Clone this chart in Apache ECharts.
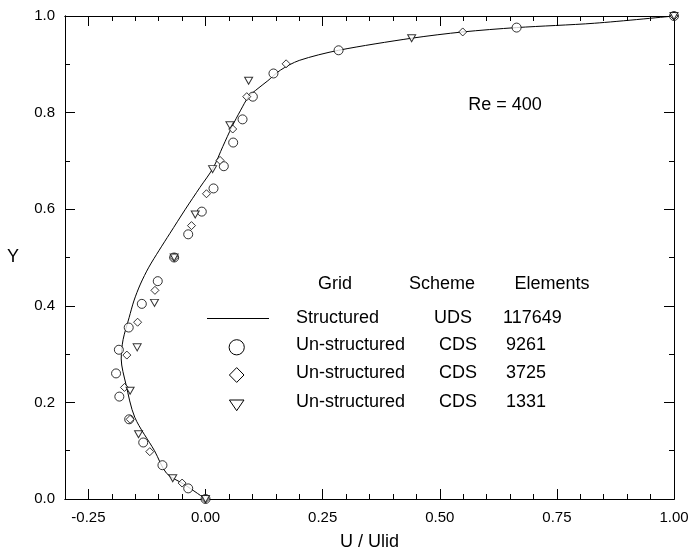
<!DOCTYPE html>
<html>
<head>
<meta charset="utf-8">
<script src="https://cdn.jsdelivr.net/npm/echarts@6/dist/echarts.min.js"></script>
<style>
html,body{margin:0;padding:0;background:#fff;}
#chart{width:690px;height:557px;}
</style>
</head>
<body>
<div id="chart"></div>
<script>
// Structured grid, UDS, 117649 elements (solid line): [U/Ulid, Y]
var structuredU = [0.0, -0.045, -0.083, -0.109, -0.151, -0.170, -0.180, -0.176, -0.163, -0.153, -0.139, -0.121, -0.099, -0.076, -0.043, -0.012, 0.016, 0.037, 0.056, 0.075, 0.092, 0.112, 0.133, 0.160, 0.200, 0.284, 0.440, 0.549, 0.664, 0.830, 1.0];
var structuredY = [0.0, 0.030, 0.053, 0.100, 0.169, 0.238, 0.290, 0.330, 0.376, 0.410, 0.445, 0.480, 0.515, 0.550, 0.600, 0.645, 0.685, 0.730, 0.770, 0.805, 0.833, 0.850, 0.866, 0.888, 0.908, 0.929, 0.954, 0.967, 0.976, 0.985, 1.0];

// Un-structured CDS 9261 (circles)
var circleU = [0.0, -0.037, -0.092, -0.133, -0.163, -0.184, -0.191, -0.185, -0.164, -0.136, -0.102, -0.067, -0.037, -0.008, 0.017, 0.039, 0.059, 0.079, 0.101, 0.145, 0.284, 0.664, 1.0];
var circleY = [0.0, 0.022, 0.070, 0.117, 0.165, 0.212, 0.260, 0.309, 0.355, 0.404, 0.451, 0.500, 0.548, 0.595, 0.643, 0.689, 0.738, 0.786, 0.833, 0.881, 0.929, 0.976, 1.0];

// Un-structured CDS 3725 (diamonds)
var diamondU = [0.0, -0.050, -0.119, -0.161, -0.173, -0.168, -0.145, -0.108, -0.067, -0.030, 0.002, 0.031, 0.058, 0.088, 0.172, 0.549, 1.0];
var diamondY = [0.0, 0.033, 0.098, 0.165, 0.231, 0.298, 0.366, 0.432, 0.500, 0.566, 0.632, 0.701, 0.766, 0.833, 0.901, 0.967, 1.0];

// Un-structured CDS 1331 (down triangles)
var triangleU = [0.0, -0.070, -0.143, -0.161, -0.146, -0.109, -0.067, -0.022, 0.015, 0.052, 0.092, 0.440, 1.0];
var triangleY = [0.0, 0.043, 0.134, 0.224, 0.314, 0.406, 0.500, 0.589, 0.683, 0.774, 0.866, 0.954, 1.0];

// Tick labels
var xTickValues = [-0.25, 0, 0.25, 0.5, 0.75, 1.0];
var xTickLabels = ['-0.25', '0.00', '0.25', '0.50', '0.75', '1.00'];
var yTickValues = [0, 0.2, 0.4, 0.6, 0.8, 1.0];
var yTickLabels = ['0.0', '0.2', '0.4', '0.6', '0.8', '1.0'];

function zip(a, b) { return a.map(function (v, i) { return [v, b[i]]; }); }
function steps(lo, hi, st) {
  var out = [];
  var n = Math.round((hi - lo) / st);
  for (var i = 0; i <= n; i++) out.push(Math.round((lo + i * st) * 1000) / 1000);
  return out;
}
var xMinor = steps(-0.3, 1.0, 0.05);
var yMinor = steps(0, 1.0, 0.1);

var FONT = '"Liberation Sans", Arial, Helvetica, sans-serif';
var black = '#000';

function xAx(pos, values, len, labels, extra) {
  var o = {
    type: 'value', position: pos, min: -0.3, max: 1.0, gridIndex: 0,
    axisLine: { show: true, onZero: false, lineStyle: { color: black, width: 1 } },
    axisTick: { show: true, inside: true, length: len, customValues: values, lineStyle: { color: black, width: 1 } },
    axisLabel: { show: labels, customValues: values, fontFamily: FONT, fontSize: 15, color: black, margin: 11,
      formatter: function (v) { var i = xTickValues.findIndex(function (t) { return Math.abs(t - v) < 1e-6; }); return i >= 0 ? xTickLabels[i] : ''; } },
    splitLine: { show: false }
  };
  return Object.assign(o, extra || {});
}
function yAx(pos, values, len, labels, extra) {
  var o = {
    type: 'value', position: pos, min: 0, max: 1.0, gridIndex: 0,
    axisLine: { show: true, onZero: false, lineStyle: { color: black, width: 1 } },
    axisTick: { show: true, inside: true, length: len, customValues: values, lineStyle: { color: black, width: 1 } },
    axisLabel: { show: labels, customValues: values, fontFamily: FONT, fontSize: 15, color: black, margin: 10,
      formatter: function (v) { var i = yTickValues.findIndex(function (t) { return Math.abs(t - v) < 1e-6; }); return i >= 0 ? yTickLabels[i] : ''; } },
    splitLine: { show: false }
  };
  return Object.assign(o, extra || {});
}

var chart = echarts.init(document.getElementById('chart'), null, { renderer: 'canvas' });

var txt = function (s, x, y, align) {
  return { type: 'text', x: x, y: y, z: 100,
    style: { text: s, font: '18px ' + FONT, fill: black, textAlign: align || 'center', textVerticalAlign: 'middle' } };
};

var legendX = 236.7;
var graphics = [
  txt('Re = 400', 505, 105),
  txt('Grid', 335, 284),
  txt('Scheme', 442, 284),
  txt('Elements', 552, 284),
  { type: 'line', z: 100, shape: { x1: 207, y1: 318.5, x2: 269, y2: 318.5 }, style: { stroke: black, lineWidth: 1 } },
  txt('Structured', 296, 318.3, 'left'),
  txt('UDS', 453, 318.3),
  txt('117649', 503, 318.3, 'left'),
  { type: 'circle', z: 100, shape: { cx: legendX, cy: 347.3, r: 7.6 }, style: { fill: '#fff', stroke: black, lineWidth: 1 } },
  txt('Un-structured', 296, 345, 'left'),
  txt('CDS', 458, 345),
  txt('9261', 506, 345, 'left'),
  { type: 'polygon', z: 100, shape: { points: [[legendX, 367.6], [legendX + 7.3, 375], [legendX, 382.4], [legendX - 7.3, 375]] }, style: { fill: '#fff', stroke: black, lineWidth: 1 } },
  txt('Un-structured', 296, 373.3, 'left'),
  txt('CDS', 458, 373.3),
  txt('3725', 506, 373.3, 'left'),
  { type: 'polygon', z: 100, shape: { points: [[legendX - 7.3, 400], [legendX + 7.3, 400], [legendX, 410.7]] }, style: { fill: '#fff', stroke: black, lineWidth: 1 } },
  txt('Un-structured', 296, 401.7, 'left'),
  txt('CDS', 458, 401.7),
  txt('1331', 506, 401.7, 'left')
];

var option = {
  backgroundColor: '#fff',
  animation: false,
  grid: { left: 65, right: 16, top: 16, bottom: 58, containLabel: false, outerBoundsMode: 'none' },
  xAxis: [
    xAx('bottom', xTickValues, 10, true, { name: 'U / Ulid', nameLocation: 'middle', nameGap: 34, nameTextStyle: { fontFamily: FONT, fontSize: 18, color: black } }),
    xAx('bottom', xMinor, 5, false),
    xAx('top', xTickValues, 10, false),
    xAx('top', xMinor, 5, false)
  ],
  yAxis: [
    yAx('left', yTickValues, 10, true, { name: 'Y', nameLocation: 'middle', nameGap: 46, nameRotate: 0, nameTextStyle: { fontFamily: FONT, fontSize: 18, color: black } }),
    yAx('left', yMinor, 5, false),
    yAx('right', yTickValues, 10, false),
    yAx('right', yMinor, 5, false)
  ],
  series: [
    { name: 'Structured UDS 117649', type: 'line', xAxisIndex: 0, yAxisIndex: 0, data: zip(structuredU, structuredY),
      smooth: 0.3, showSymbol: false, symbol: 'none', lineStyle: { color: black, width: 1 }, z: 2 },
    { name: 'Un-structured CDS 9261', type: 'scatter', xAxisIndex: 0, yAxisIndex: 0, data: zip(circleU, circleY),
      symbol: 'circle', symbolSize: 9, clip: false, itemStyle: { color: '#fff', borderColor: black, borderWidth: 1 }, z: 3 },
    { name: 'Un-structured CDS 3725', type: 'scatter', xAxisIndex: 0, yAxisIndex: 0, data: zip(diamondU, diamondY),
      symbol: 'diamond', symbolSize: 8, clip: false, itemStyle: { color: '#fff', borderColor: black, borderWidth: 1 }, z: 4 },
    { name: 'Un-structured CDS 1331', type: 'scatter', xAxisIndex: 0, yAxisIndex: 0, data: zip(triangleU, triangleY),
      symbol: 'triangle', symbolRotate: 180, symbolSize: [8, 7], clip: false, itemStyle: { color: '#fff', borderColor: black, borderWidth: 1 }, z: 5 }
  ],
  graphic: graphics
};
chart.setOption(option);
</script>
</body>
</html>
